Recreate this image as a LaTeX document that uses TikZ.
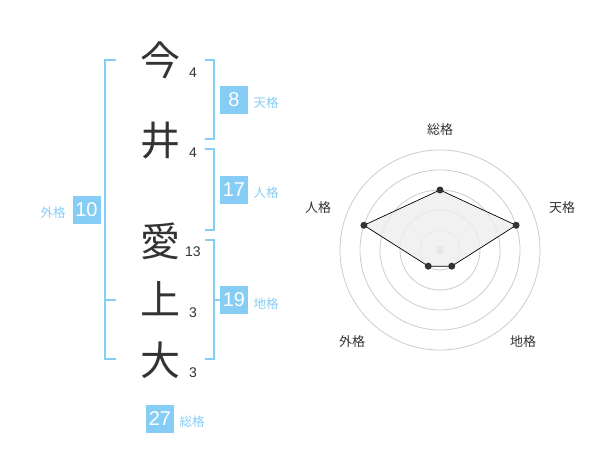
\documentclass[tikz,border=0pt]{standalone}
\usepackage{fontspec}
\usetikzlibrary{calc}
\setmainfont{Noto Sans CJK JP}
\newfontfamily\digitfont{Liberation Sans}
\definecolor{sky}{HTML}{86CDF6}
\definecolor{ink}{HTML}{333333}
\definecolor{ring}{HTML}{CCCCCC}
\definecolor{area}{HTML}{EEEEEE}
\begin{document}
\begin{tikzpicture}[x=1pt,y=-1pt,
  kanji/.style={text=ink,inner sep=0pt,font=\fontsize{40}{40}\selectfont},
  strokes/.style={text=ink,inner sep=0pt,font=\digitfont\fontsize{14}{14}\selectfont},
  numbox/.style={fill=sky,text=white,minimum size=28pt,inner sep=0pt,font=\digitfont\fontsize{20}{20}\selectfont},
  kaku/.style={text=sky,inner sep=0pt,font=\fontsize{12.5}{12.5}\selectfont},
  brk/.style={draw=sky,line width=2pt},
  axis/.style={text=ink,inner sep=0pt,font=\fontsize{13}{13}\selectfont},
  dot/.style={circle,fill=ink,inner sep=0pt,minimum size=7pt}]
\useasboundingbox (0,0) rectangle (600,470);
% kanji
\node[kanji] (k1) at (160,60) {今};
\node[kanji] (k2) at (160,141) {井};
\node[kanji] (k3) at (160,241) {愛};
\node[kanji] (k4) at (160,299) {上};
\node[kanji] (k5) at (160,360) {大};
\node[strokes] (s1) at (193,73) {4};
\node[strokes] (s2) at (193,153) {4};
\node[strokes] (s3) at (193,252) {13};
\node[strokes] (s4) at (193,313) {3};
\node[strokes] (s5) at (193,373) {3};
% brackets
\draw[brk] (116,60) -- (105,60) -- (105,359.5) -- (116,359.5);
\draw[brk] (105,300) -- (116,300);
\draw[brk] (205,60) -- (214,60) -- (214,139.5) -- (205,139.5);
\draw[brk] (205,149.5) -- (214,149.5) -- (214,230) -- (205,230);
\draw[brk] (205,240) -- (214,240) -- (214,359.5) -- (205,359.5);
\draw[brk] (214,300) -- (220,300);
% boxes
\node[numbox] (b8) at (234,100) {8};
\node[kaku] (l8) at (266,103) {天格};
\node[numbox] (b17) at (234,190) {17};
\node[kaku] (l17) at (266,193) {人格};
\node[numbox] (b10) at (86.5,210) {10};
\node[kaku] (l10) at (53,213) {外格};
\node[numbox] (b19) at (234,300) {19};
\node[kaku] (l19) at (266,304) {地格};
\node[numbox] (b27) at (160,419) {27};
\node[kaku] (l27) at (192,422) {総格};
% radar
\coordinate (c) at (440,250);
\foreach \r in {20,40,60,80,100} \draw[ring,line width=0.8pt] (c) circle[radius=\r];
\fill[ring] (c) circle[radius=4];
\coordinate (pS) at ($(c)+(-90:60)$);
\coordinate (pT) at ($(c)+(-18:80)$);
\coordinate (pC) at ($(c)+(54:20)$);
\coordinate (pG) at ($(c)+(126:20)$);
\coordinate (pJ) at ($(c)+(198:80)$);
\draw[fill=area,fill opacity=0.8,draw=black,line width=0.7pt] (pS) -- (pT) -- (pC) -- (pG) -- (pJ) -- cycle;
\foreach \p in {pS,pT,pC,pG,pJ} \node[dot] at (\p) {};
\node[axis] (aS) at (440,130) {総格};
\node[axis] (aT) at (562,208) {天格};
\node[axis] (aJ) at (318,208) {人格};
\node[axis] (aG) at (352,342) {外格};
\node[axis] (aC) at (523,342) {地格};
\end{tikzpicture}
\end{document}
